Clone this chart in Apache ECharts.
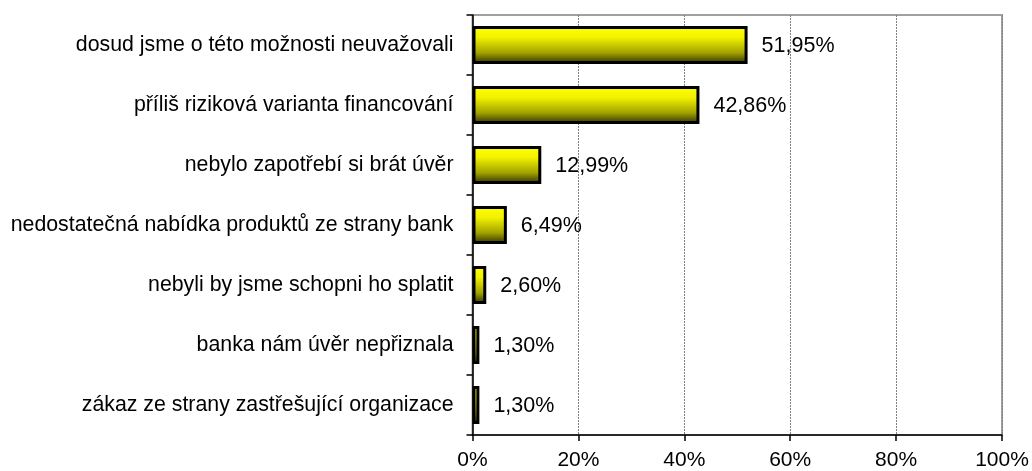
<!DOCTYPE html>
<html>
<head>
<meta charset="utf-8">
<script src="https://cdn.jsdelivr.net/npm/echarts@6/dist/echarts.min.js"></script>
<style>
  html, body { margin: 0; padding: 0; background: #fff; }
  #chart { width: 1032px; height: 471px; }
</style>
</head>
<body>
<div id="chart"></div>
<script>
var categories = [
    'dosud jsme o této možnosti neuvažovali',
    'příliš riziková varianta financování',
    'nebylo zapotřebí si brát úvěr',
    'nedostatečná nabídka produktů ze strany bank',
    'nebyli by jsme schopni ho splatit',
    'banka nám úvěr nepřiznala',
    'zákaz ze strany zastřešující organizace'
];
var values = [51.95, 42.86, 12.99, 6.49, 2.60, 1.30, 1.30];
var xTicks = [0, 20, 40, 60, 80, 100];

window.onload = function() {
    var chart = echarts.init(document.getElementById('chart'));
    var font = 'Liberation Sans, Arial, sans-serif';
    chart.setOption({
        animation: false,
        grid: {
            left: 472.5,
            right: 30,
            top: 15,
            bottom: 34,
            show: true,
            borderColor: '#a0a0a0',
            borderWidth: 2
        },
        xAxis: {
            type: 'value',
            min: xTicks[0],
            max: xTicks[xTicks.length - 1],
            interval: 20,
            axisLine: { show: true, lineStyle: { color: '#000', width: 1.5 } },
            axisTick: { show: true, length: 6, lineStyle: { color: '#000', width: 1.5 } },
            axisLabel: {
                color: '#000',
                fontFamily: font,
                fontSize: 21,
                margin: 15,
                formatter: '{value}%'
            },
            splitLine: {
                show: true,
                lineStyle: { color: '#808080', type: [2, 1], width: 1 }
            }
        },
        yAxis: {
            type: 'category',
            data: categories,
            inverse: true,
            axisLine: { show: true, lineStyle: { color: '#000', width: 1.5 } },
            axisTick: { show: true, length: 6, lineStyle: { color: '#000', width: 1.5 } },
            axisLabel: {
                color: '#000',
                fontFamily: font,
                fontSize: 21.3,
                margin: 19
            },
            splitLine: { show: false }
        },
        series: [{
            type: 'bar',
            data: values,
            barWidth: '63%',
            itemStyle: {
                color: new echarts.graphic.LinearGradient(0, 0, 0, 1, [
                    { offset: 0, color: '#ffff00' },
                    { offset: 0.3, color: '#f2f200' },
                    { offset: 0.7, color: '#a3a300' },
                    { offset: 1, color: '#2e2e00' }
                ]),
                borderColor: '#000',
                borderWidth: 3
            },
            label: {
                show: true,
                position: 'right',
                distance: 14,
                offset: [0, 1],
                color: '#000',
                fontFamily: font,
                fontSize: 21.5,
                formatter: function(p) {
                    return p.value.toFixed(2).replace('.', ',') + '%';
                }
            }
        }]
    });
};
</script>
</body>
</html>
